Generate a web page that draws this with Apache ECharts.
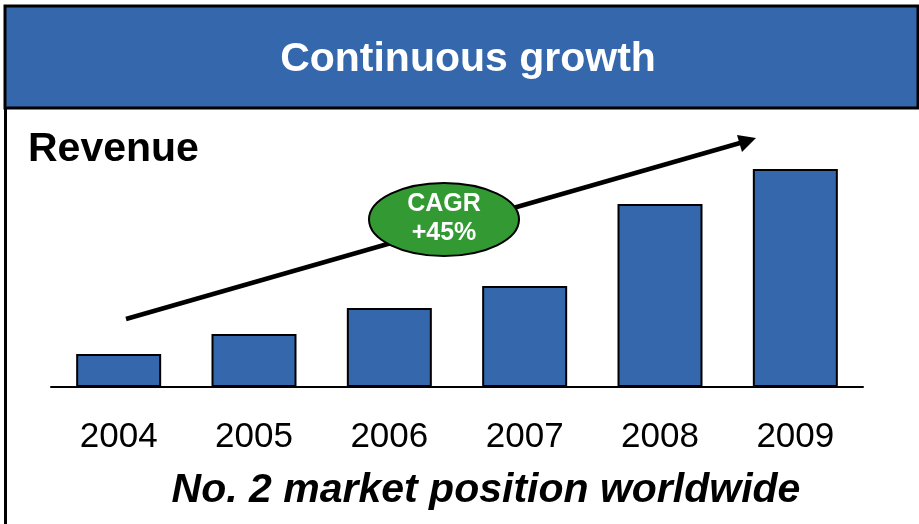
<!DOCTYPE html>
<html>
<head>
<meta charset="utf-8">
<script src="https://cdn.jsdelivr.net/npm/echarts@6/dist/echarts.min.js"></script>
<style>
  html, body { margin: 0; padding: 0; background: #fff; }
  #chart { width: 919px; height: 524px; }
</style>
</head>
<body>
<div id="chart"></div>
<script>
// years on the category axis
var years = ['2004', '2005', '2006', '2007', '2008', '2009'];
// revenue, relative units
var revenue = [33, 53, 79, 101, 183, 218];
var cagrLines = ['CAGR', '+45%'];

var FONT = '"Liberation Sans", Arial, sans-serif';
var BLUE = '#3467AB';

var chart = echarts.init(document.getElementById('chart'));
chart.setOption({
  backgroundColor: '#fff',
  animation: false,
  grid: { left: 51, right: 56, top: 137, bottom: 137 },
  xAxis: {
    type: 'category',
    data: years,
    axisLine: { lineStyle: { color: '#000', width: 2 } },
    axisTick: { show: false },
    axisLabel: { color: '#000', fontSize: 35, fontFamily: FONT, margin: 33 }
  },
  yAxis: {
    type: 'value',
    min: 0,
    max: 250,
    show: false,
    splitLine: { show: false }
  },
  series: [{
    type: 'bar',
    data: revenue,
    barWidth: 85,
    itemStyle: { color: BLUE, borderColor: '#000', borderWidth: 2 }
  }],
  graphic: [
    // header band
    {
      type: 'rect', z: 10,
      shape: { x: 5, y: 6, width: 913, height: 102 },
      style: { fill: BLUE, stroke: '#000', lineWidth: 3 }
    },
    {
      type: 'text', z: 11,
      x: 468, y: 60,
      style: {
        text: 'Continuous growth', fill: '#fff',
        font: 'bold 41px ' + FONT, align: 'center', verticalAlign: 'middle'
      }
    },
    // left border of the body
    {
      type: 'line', z: 10,
      shape: { x1: 5.5, y1: 108, x2: 5.5, y2: 524 },
      style: { stroke: '#000', lineWidth: 3 }
    },
    {
      type: 'text', z: 11,
      x: 28, y: 150,
      style: {
        text: 'Revenue', fill: '#000',
        font: 'bold 41px ' + FONT, align: 'left', verticalAlign: 'middle'
      }
    },
    // growth arrow
    {
      type: 'line', z: 11,
      shape: { x1: 126, y1: 319, x2: 740, y2: 143 },
      style: { stroke: '#000', lineWidth: 4.5 }
    },
    {
      type: 'polygon', z: 11,
      shape: { points: [[756, 138], [737, 135], [742, 152]] },
      style: { fill: '#000' }
    },
    // CAGR bubble
    {
      type: 'ellipse', z: 12,
      shape: { cx: 444, cy: 219.5, rx: 75, ry: 36.5 },
      style: { fill: '#339933', stroke: '#000', lineWidth: 2 }
    },
    {
      type: 'text', z: 13,
      x: 444, y: 204,
      style: {
        text: cagrLines[0], fill: '#fff',
        font: 'bold 25px ' + FONT, align: 'center', verticalAlign: 'middle'
      }
    },
    {
      type: 'text', z: 13,
      x: 444, y: 233,
      style: {
        text: cagrLines[1], fill: '#fff',
        font: 'bold 25px ' + FONT, align: 'center', verticalAlign: 'middle'
      }
    },
    {
      type: 'text', z: 11,
      x: 486, y: 491,
      style: {
        text: 'No. 2 market position worldwide', fill: '#000',
        font: 'italic bold 41px ' + FONT, align: 'center', verticalAlign: 'middle'
      }
    }
  ]
});
</script>
</body>
</html>
